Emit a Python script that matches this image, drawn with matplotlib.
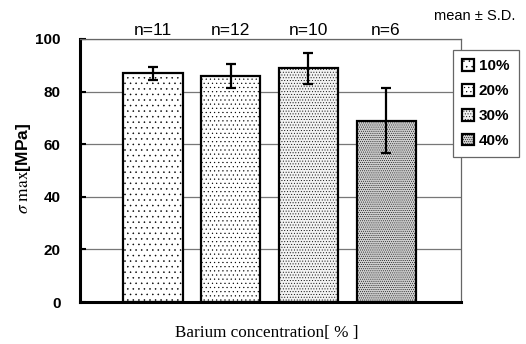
import matplotlib
matplotlib.use("Agg")
import matplotlib.pyplot as plt
from matplotlib.patches import Patch

categories = ["10%", "20%", "30%", "40%"]
means = [87.0, 86.0, 88.8, 69.0]
sds = [2.5, 4.5, 6.0, 12.5]
n_labels = ["n=11", "n=12", "n=10", "n=6"]
yticks = [0, 20, 40, 60, 80, 100]
hatches = ["...", "....", "......", "........"]
fills = ["white", "white", "#f2f2f2", "#cfcfcf"]

plt.rcParams["font.family"] = ["Liberation Sans", "DejaVu Sans"]
plt.rcParams["hatch.linewidth"] = 0.35
plt.rcParams["mathtext.fontset"] = "stix"

fig = plt.figure(figsize=(5.26, 3.44), dpi=100)
ax = fig.add_axes([80/526, 42/344, 381/526, 263/344])

x = list(range(len(categories)))
ax.yaxis.grid(True, color="#777777", linewidth=0.9, zorder=0)
ax.set_axisbelow(True)
bars = ax.bar(x, means, width=0.76, color=fills, edgecolor="black",
              linewidth=1.6, zorder=2)
for b, h in zip(bars, hatches):
    b.set_hatch(h)
ax.errorbar(x, means, yerr=sds, fmt="none", ecolor="black", elinewidth=1.6,
            capsize=3.3, capthick=1.6, zorder=3)

ax.set_xlim(-0.94, 3.965)
ax.set_ylim(0, 100)
ax.set_yticks(yticks)
ax.set_yticklabels([str(t) for t in yticks], fontweight="bold", fontsize=11)
ax.set_xticks([])
ax.tick_params(axis="y", direction="in", length=4, width=1.5, pad=14)

for side in ["left", "bottom"]:
    ax.spines[side].set_linewidth(2.2)
    ax.spines[side].set_color("black")
for side in ["top", "right"]:
    ax.spines[side].set_linewidth(0.9)
    ax.spines[side].set_color("#666666")

for xi, lab in zip(x, n_labels):
    ax.text(xi, 103.4, lab, ha="center", va="center", fontsize=12.5, clip_on=False)

fig.text(475/526, 1 - 16/344, "mean \u00b1 S.D.", ha="center", va="center", fontsize=10.5)

ax.set_ylabel(r"$\sigma\ \mathrm{max}$[MPa]", fontsize=12.5, fontweight="bold")
ax.yaxis.set_label_coords(-0.123, 0.506)
ax.set_xlabel("Barium concentration[ % ]", family="Liberation Serif", fontsize=12.3)
ax.xaxis.set_label_coords(0.49, -0.118)
ax.xaxis.label.set_va("center")

handles = [Patch(facecolor=f, edgecolor="black", linewidth=1.6, hatch=h)
           for f, h in zip(fills, hatches)]
leg = ax.legend(handles, categories, loc="upper left", bbox_to_anchor=(0.979, 0.958),
                fancybox=False, edgecolor="#666666", framealpha=1,
                prop={"weight": "bold", "size": 11}, handlelength=0.8,
                handleheight=0.8, handletextpad=0.3, labelspacing=0.7,
                borderpad=0.6, borderaxespad=0)
leg.get_frame().set_linewidth(0.9)

fig.savefig("out.png", dpi=100)
